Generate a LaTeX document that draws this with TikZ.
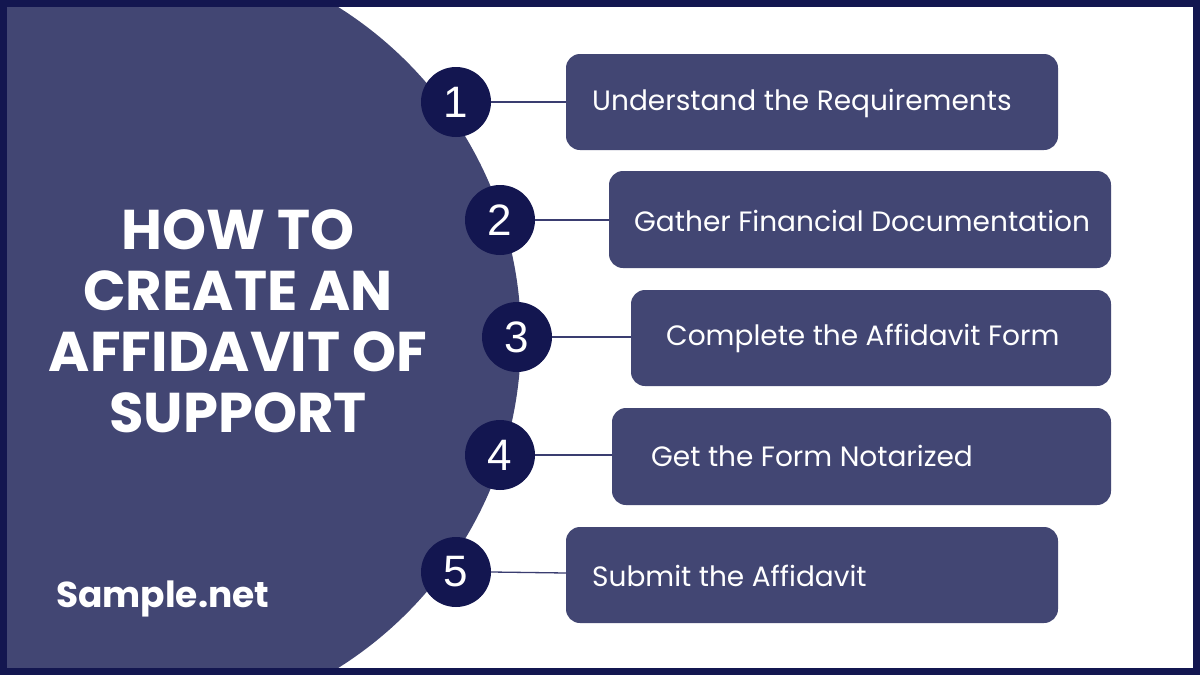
\documentclass[tikz,border=0pt]{standalone}
\usepackage{fontspec}
\setmainfont{Poppins}
\newfontfamily\numfont{Liberation Sans}
\definecolor{navy}{HTML}{131650}
\definecolor{slate}{HTML}{424673}
\definecolor{linec}{HTML}{3A3D70}
\tikzset{
  stepbox/.style={fill=slate, rounded corners=14pt},
  numcirc/.style={circle, fill=navy, minimum size=70pt, inner sep=0pt, text=white, font=\numfont\fontsize{44}{44}\selectfont},
  steptext/.style={anchor=west, text=white, inner sep=0pt, font=\fontsize{28}{28}\selectfont},
  conn/.style={draw=linec, line width=1.3pt}
}
\begin{document}
\begin{tikzpicture}[x=1pt, y=-1pt]
\useasboundingbox (0,0) rectangle (1200,675);
\fill[white] (0,0) rectangle (1200,675);
\begin{scope}
\clip (0,0) rectangle (1200,675);
\fill[slate] (131,337.5) circle[radius=390];
\end{scope}
% title
\node[text=white, align=center, font=\bfseries\fontsize{56}{61}\selectfont, inner sep=0pt] (title) at (238,321) {HOW TO\\CREATE AN\\AFFIDAVIT OF\\SUPPORT};
\node[text=white, anchor=west, font=\bfseries\fontsize{36}{36}\selectfont, inner sep=0pt] (brand) at (56,599) {Sample.net};
% boxes
\path[stepbox] (566,54) rectangle (1058,150);
\path[stepbox] (609,171) rectangle (1111,268);
\path[stepbox] (631,290) rectangle (1111,386);
\path[stepbox] (612,408) rectangle (1111,505);
\path[stepbox] (566,527) rectangle (1058,623);
\coordinate (b1) at (566,102);
\coordinate (b2) at (609,220);
\coordinate (b3) at (631,337);
\coordinate (b4) at (612,455);
\coordinate (b5) at (566,573);
\node[steptext] (t1) at (592,103) {Understand the Requirements};
\node[steptext] (t2) at (634,221) {Gather Financial Documentation};
\node[steptext] (t3) at (666,338) {Complete the Affidavit Form};
\node[steptext] (t4) at (651,456) {Get the Form Notarized};
\node[steptext] (t5) at (592,576) {Submit the Affidavit};
% numbers
\node[numcirc] (n1) at (456,102) {1};
\node[numcirc] (n2) at (500,220) {2};
\node[numcirc] (n3) at (517,337) {3};
\node[numcirc] (n4) at (500,455) {4};
\node[numcirc] (n5) at (456,572) {5};
\draw[conn] (n1.east) -- (b1);
\draw[conn] (n2.east) -- (b2);
\draw[conn] (n3.east) -- (b3);
\draw[conn] (n4.east) -- (b4);
\draw[conn] (n5.east) -- (b5);
% frame
\draw[navy, line width=7pt] (3.5,3.5) rectangle (1196,671.5);
\end{tikzpicture}
\end{document}
